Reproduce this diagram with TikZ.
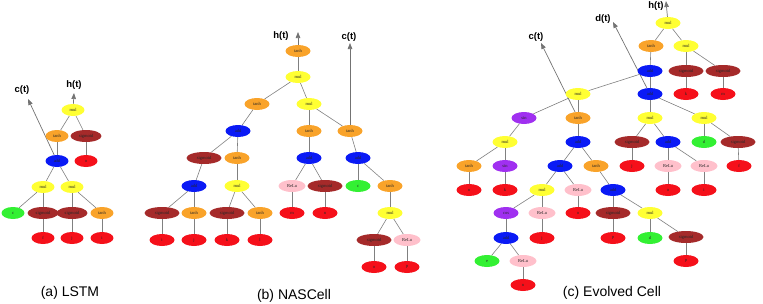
\documentclass[tikz,border=0pt]{standalone}
\usepackage{fontspec}
\setmainfont{Liberation Serif}
\newfontfamily\capfont{Liberation Sans}
\usetikzlibrary{shapes.geometric,arrows.meta}
\pgfdeclarelayer{background}
\pgfsetlayers{background,main}
\definecolor{nyellow}{HTML}{FFFF33}
\definecolor{norange}{HTML}{F9A32A}
\definecolor{nbrown}{HTML}{A52A2A}
\definecolor{nred}{HTML}{F5101A}
\definecolor{nblue}{HTML}{0A1AF5}
\definecolor{ngreen}{HTML}{33F033}
\definecolor{npink}{HTML}{FFC0CB}
\definecolor{npurple}{HTML}{A030F0}
\definecolor{edgegray}{HTML}{808080}
\tikzset{
  nd/.style={ellipse, inner sep=0pt, minimum height=12pt, minimum width=25pt,
    font=\fontsize{4.5}{5}\selectfont, text=black!85},
  cy/.style={nd, fill=nyellow},
  co/.style={nd, fill=norange},
  cb/.style={nd, fill=nbrown, minimum width=35pt},
  cr/.style={nd, fill=nred},
  cbl/.style={nd, fill=nblue},
  cg/.style={nd, fill=ngreen},
  cp/.style={nd, fill=npink, minimum width=27pt},
  cpu/.style={nd, fill=npurple},
  sm/.style={minimum width=23pt, minimum height=12pt},
  smb/.style={minimum width=31pt},
  ed/.style={draw=edgegray, line width=0.6pt},
  ar/.style={draw=edgegray!90!black, line width=0.7pt, -{Triangle[length=6pt,width=4.5pt]}},
  lbl/.style={font=\capfont\bfseries\fontsize{9.5}{10}\selectfont, inner sep=0pt},
  captxt/.style={font=\capfont\fontsize{14}{16}\selectfont, inner sep=0pt}
}
\begin{document}
\begin{tikzpicture}[x=1pt,y=-1pt]
\useasboundingbox (0,0) rectangle (763,303);
% ---------------- (a) LSTM ----------------
\node[cy,sm] (a1) at (73,110) {mul};
\node[co,sm] (a2) at (57,136) {tanh};
\node[cb,sm,smb] (a3) at (86,136) {sigmoid};
\node[cbl,sm] (a4) at (57,161) {add};
\node[cr,sm] (a5) at (86,161) {o};
\node[cy,sm] (a6) at (43,187) {mul};
\node[cy,sm] (a7) at (72,187) {mul};
\node[cg,sm] (a8) at (13,213) {c};
\node[cb,sm,smb] (a9) at (43,213) {sigmoid};
\node[cb,sm,smb] (a10) at (72,213) {sigmoid};
\node[co,sm] (a11) at (102,213) {tanh};
\node[cr,sm] (a12) at (43,238) {f};
\node[cr,sm] (a13) at (72,238) {j};
\node[cr,sm] (a14) at (102,238) {i};
\node[lbl] (ah) at (74,85) {h(t)};
\node[lbl] (ac) at (22,90) {c(t)};
\coordinate (ahe) at (74,93);
\coordinate (ace) at (28,99);
% ---------------- (b) NASCell ----------------
\node[co] (b1) at (298,51) {tanh};
\node[cy] (b2) at (298,77) {mul};
\node[co] (b3) at (257,104) {tanh};
\node[cy] (b4) at (309,104) {mul};
\node[co] (b5) at (309,131) {tanh};
\node[co] (b6) at (350,131) {tanh};
\node[cbl] (b7) at (238,131) {add};
\node[cb] (b8) at (204,158) {sigmoid};
\node[co] (b9) at (237,158) {tanh};
\node[cbl] (b10) at (194,186) {add};
\node[cy] (b11) at (237,186) {mul};
\node[cb] (b12) at (162,213) {sigmoid};
\node[co] (b13) at (194,213) {tanh};
\node[cb] (b14) at (227,213) {sigmoid};
\node[co] (b15) at (260,213) {tanh};
\node[cr] (b16) at (162,240) {i};
\node[cr] (b17) at (194,240) {j};
\node[cr] (b18) at (227,240) {k};
\node[cr] (b19) at (260,240) {l};
\node[cbl] (b20) at (309,158) {add};
\node[cbl] (b21) at (358,158) {add};
\node[cp] (b22) at (292,186) {ReLu};
\node[cb] (b23) at (325,186) {sigmoid};
\node[cg] (b24) at (358,186) {c};
\node[co] (b25) at (390,186) {tanh};
\node[cr] (b26) at (292,213) {m};
\node[cr] (b27) at (325,213) {n};
\node[cy] (b28) at (390,213) {mul};
\node[cb] (b29) at (374,240) {sigmoid};
\node[cp] (b30) at (407,240) {ReLu};
\node[cr] (b31) at (374,267) {o};
\node[cr] (b32) at (407,267) {p};
\node[lbl] (bh) at (281,36) {h(t)};
\node[lbl] (bc) at (349,37) {c(t)};
\coordinate (bhe) at (298,32);
\coordinate (bce) at (350,43);
% ---------------- (c) Evolved Cell ----------------
\node[cy] (c1) at (668,23) {mul};
\node[co] (c2) at (651,46) {tanh};
\node[cy] (c3) at (686,46) {mul};
\node[cbl] (c4) at (650,71) {add};
\node[cb] (c5) at (686,71) {sigmoid};
\node[cb] (c6) at (723,71) {sigmoid};
\node[cr] (c7) at (686,94) {k};
\node[cr] (c8) at (723,94) {m};
\node[cbl] (c9) at (650,94) {add};
\node[cy] (c10) at (578,94) {mul};
\node[cpu] (c11) at (524,118) {sin};
\node[co] (c12) at (578,118) {tanh};
\node[cy] (c13) at (650,118) {mul};
\node[cy] (c14) at (704,118) {mul};
\node[cb] (c15) at (632,142) {sigmoid};
\node[cbl] (c16) at (668,142) {add};
\node[cg] (c17) at (704,142) {d};
\node[cb] (c18) at (738,142) {sigmoid};
\node[cr] (c19) at (632,166) {j};
\node[cp] (c20) at (668,166) {ReLu};
\node[cp] (c21) at (704,166) {ReLu};
\node[cr] (c22) at (739,166) {f};
\node[cr] (c23) at (668,190) {o};
\node[cr] (c24) at (704,190) {i};
\node[cy] (c25) at (505,142) {mul};
\node[cbl] (c26) at (578,142) {add};
\node[co] (c27) at (469,166) {tanh};
\node[cpu] (c28) at (505,166) {sin};
\node[cbl] (c29) at (560,166) {add};
\node[co] (c30) at (596,166) {tanh};
\node[cr] (c31) at (469,190) {n};
\node[cr] (c32) at (505,190) {k};
\node[cy] (c33) at (542,190) {mul};
\node[cp] (c34) at (578,190) {ReLu};
\node[cbl] (c35) at (613,190) {add};
\node[cpu] (c36) at (506,213) {cos};
\node[cp] (c37) at (542,213) {ReLu};
\node[cr] (c38) at (578,213) {o};
\node[cb] (c39) at (613,213) {sigmoid};
\node[cy] (c40) at (650,213) {mul};
\node[cbl] (c41) at (506,238) {add};
\node[cr] (c42) at (542,238) {j};
\node[cr] (c43) at (613,238) {p};
\node[cg] (c44) at (650,238) {d};
\node[cb] (c45) at (686,237) {sigmoid};
\node[cr] (c46) at (686,261) {p};
\node[cg] (c47) at (487,261) {e};
\node[cp] (c48) at (523,261) {ReLu};
\node[cr] (c49) at (523,285) {n};
\node[lbl] (ch) at (656,6) {h(t)};
\node[lbl] (cd) at (603,19) {d(t)};
\node[lbl] (cc) at (536,37) {c(t)};
\coordinate (che) at (666,1);
\coordinate (cde) at (613,22);
\coordinate (cce) at (541,43);
% captions
\node[captxt] (capa) at (70,293) {(a) LSTM};
\node[captxt] (capb) at (294,295.5) {(b) NASCell};
\node[captxt] (capc) at (612,293) {(c) Evolved Cell};
% ---------------- edges ----------------
\begin{pgfonlayer}{background}
\foreach \u/\v in {a1/a2,a1/a3,a2/a4,a3/a5,a4/a6,a4/a7,a6/a8,a6/a9,a7/a10,a7/a11,a9/a12,a10/a13,a11/a14,
  b1/b2,b2/b3,b2/b4,b4/b5,b4/b6,b5/b20,b6/b21,b3/b7,b7/b8,b7/b9,b8/b10,b9/b11,b10/b12,b10/b13,b11/b14,b11/b15,
  b12/b16,b13/b17,b14/b18,b15/b19,b20/b22,b20/b23,b22/b26,b23/b27,b21/b24,b21/b25,b25/b28,b28/b29,b28/b30,b29/b31,b30/b32,
  c1/c2,c1/c3,c2/c4,c3/c5,c3/c6,c5/c7,c6/c8,c4/c9,c4/c10,c10/c11,c10/c12,c9/c13,c9/c14,c13/c15,c13/c16,c14/c17,c14/c18,
  c15/c19,c16/c20,c16/c21,c18/c22,c20/c23,c21/c24,c11/c25,c12/c26,c25/c27,c25/c28,c27/c31,c28/c32,c26/c29,c26/c30,
  c29/c33,c29/c34,c30/c35,c33/c36,c33/c37,c34/c38,c35/c39,c35/c40,c36/c41,c37/c42,c39/c43,c40/c44,c40/c45,c45/c46,
  c41/c47,c41/c48,c48/c49}
  \draw[ed] (\u) -- (\v);
\draw[ar] (a1) -- (ahe);
\draw[ar] (a4) -- (ace);
\draw[ar] (b1) -- (bhe);
\draw[ar] (b6) -- (bce);
\draw[ar] (c1) -- (che);
\draw[ar] (c9) -- (cde);
\draw[ar] (c12) -- (cce);
\end{pgfonlayer}
\end{tikzpicture}
\end{document}
